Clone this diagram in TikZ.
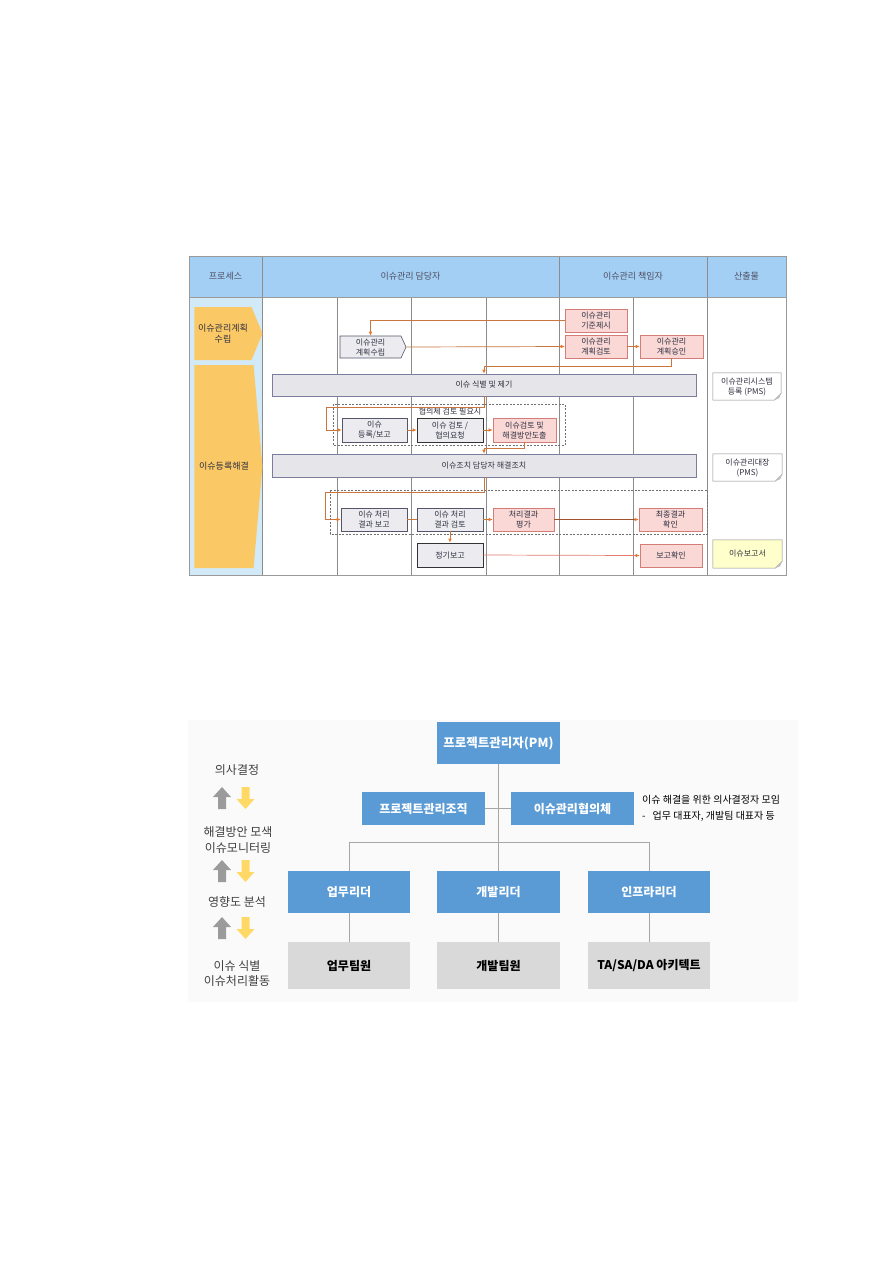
\documentclass[tikz,border=0pt]{standalone}
\usepackage{fontspec}
\setmainfont{Noto Sans CJK KR}
\usetikzlibrary{arrows.meta,shapes.symbols}
\definecolor{hdr}{HTML}{A3CFF5}
\definecolor{procbg}{HTML}{D2EAF8}
\definecolor{procarr}{HTML}{FAC865}
\definecolor{tbl}{HTML}{9A9A9A}
\definecolor{lane}{HTML}{8C8C8C}
\definecolor{hdrtxt}{HTML}{505062}
\definecolor{txt}{HTML}{303040}
\definecolor{gbd}{HTML}{55556A}
\definecolor{gbf}{HTML}{ECECF0}
\definecolor{pbd}{HTML}{D47C78}
\definecolor{pbf}{HTML}{F9D8D6}
\definecolor{barbd}{HTML}{7C7C9C}
\definecolor{barf}{HTML}{E6E6EA}
\definecolor{flowc}{HTML}{C8763E}
\definecolor{tipc}{HTML}{E8782E}
\definecolor{darkflow}{HTML}{A0522D}
\definecolor{lightflow}{HTML}{E27A72}
\definecolor{dashc}{HTML}{707070}
\definecolor{docbd}{HTML}{8A8A8A}
\definecolor{docyel}{HTML}{FFFFCC}
\definecolor{orgblue}{HTML}{5B9BD5}
\definecolor{orggray}{HTML}{D9D9D9}
\definecolor{orgline}{HTML}{A6A6A6}
\definecolor{lbltxt}{HTML}{404040}
\definecolor{upc}{HTML}{9B9B9B}
\definecolor{dnc}{HTML}{FFD966}
\definecolor{orgbg}{HTML}{FAFAFA}
\tikzset{
  boxfont/.style={font=\fontsize{8}{10}\selectfont},
  gbox/.style={rectangle, draw=gbd, fill=gbf, line width=0.6pt, inner sep=0pt, align=center, boxfont, text=txt},
  pbox/.style={gbox, draw=pbd, fill=pbf},
  barbox/.style={gbox, draw=barbd, fill=barf},
  docnode/.style={rectangle, inner sep=0pt, align=center, boxfont, text=txt},
  procshape/.style={signal, signal to=east, fill=procarr, inner sep=0pt, align=center, font=\fontsize{9}{10.5}\selectfont, text=txt},
  hdrtext/.style={font=\fontsize{9}{11}\selectfont, text=hdrtxt},
  flow/.style={draw=flowc, line width=0.7pt, -{Latex[length=4pt,width=3.6pt,color=tipc]}},
  plainflow/.style={draw=flowc, line width=0.7pt},
  dashbox/.style={draw=dashc, line width=0.5pt, dash pattern=on 2pt off 1.5pt},
  orgbox/.style={rectangle, fill=orgblue, inner sep=0pt, text=white, font=\fontsize{12}{14}\selectfont\bfseries},
  teambox/.style={rectangle, fill=orggray, inner sep=0pt, text=black, font=\fontsize{12}{14}\selectfont\bfseries},
  orgedge/.style={draw=orgline, line width=0.8pt},
  sidelabel/.style={align=center, text=lbltxt, font=\fontsize{12}{15.5}\selectfont},
  notefont/.style={anchor=west, inner sep=0pt, text=black, font=\fontsize{10}{12}\selectfont},
  uparr/.pic={\fill[upc] (0,0) -- (9,10) -- (4,10) -- (4,22) -- (-4,22) -- (-4,10) -- (-9,10) -- cycle;},
  dnarr/.pic={\fill[dnc] (0,22) -- (9,12) -- (4,12) -- (4,0) -- (-4,0) -- (-4,12) -- (-9,12) -- cycle;}
}
\begin{document}
\begin{tikzpicture}[x=1pt,y=-1pt]
\useasboundingbox (0,0) rectangle (893,1262);
\fill[white] (0,0) rectangle (893,1262);

% ===== swimlane table =====
\fill[hdr] (189,256) rectangle (786,297);
\fill[procbg] (189,297) rectangle (262,575);
\foreach \xx in {337,411,486,633} \draw[lane, line width=0.6pt] (\xx,297) -- (\xx,575);
\foreach \xx in {262,559,707} \draw[lane, line width=0.6pt] (\xx,256) -- (\xx,575);
\draw[tbl, line width=0.6pt] (189,297) -- (786,297);
\draw[tbl, line width=0.7pt] (189,256) rectangle (786,575);

\node[hdrtext] (h1) at (225.5,276.5) {프로세스};
\node[hdrtext] (h2) at (410.5,276.5) {이슈관리 담당자};
\node[hdrtext] (h3) at (633,276.5) {이슈관리 책임자};
\node[hdrtext] (h4) at (746.5,276.5) {산출물};

\node[procshape, minimum width=68pt, minimum height=53pt, signal pointer angle=135] (p1) at (223,333.5) {이슈관리계획\\수립};
\node[procshape, minimum width=68pt, minimum height=203pt, signal pointer angle=170] (p2) at (224,466.5) {이슈등록해결};

% dashed groups
\draw[dashbox] (333,404) rectangle (565,445);
\draw[dashbox] (330,490) rectangle (707,534);

% boxes
\node[gbox, signal, signal to=east, signal pointer angle=131, minimum width=66pt, minimum height=22pt] (plan) at (370.5,347) {이슈관리\\계획수립};
\node[pbox, minimum width=62pt, minimum height=23pt] (std) at (596,320.5) {이슈관리\\기준제시};
\node[pbox, minimum width=62pt, minimum height=23pt] (rev) at (596,346.5) {이슈관리\\계획검토};
\node[pbox, minimum width=63pt, minimum height=23pt] (appr) at (671.5,346.5) {이슈관리\\계획승인};
\node[barbox, minimum width=424pt, minimum height=22pt] (bar1) at (484,385) {이슈 식별 및 제기};
\node[boxfont, text=txt, inner sep=0pt] (need) at (450,411) {협의체 검토 필요시};
\node[gbox, minimum width=65pt, minimum height=24pt] (reg) at (374.5,430) {이슈\\등록/보고};
\node[gbox, minimum width=66pt, minimum height=24pt, draw=black!80] (req) at (450,430) {이슈 검토 /\\협의요청};
\node[pbox, minimum width=63pt, minimum height=24pt] (sol) at (524.5,430) {이슈검토 및\\해결방안도출};
\node[barbox, minimum width=424pt, minimum height=23pt] (bar2) at (484,465.5) {이슈조치 담당자 해결조치};
\node[gbox, minimum width=66pt, minimum height=23pt] (res) at (374,519.5) {이슈 처리\\결과 보고};
\node[gbox, minimum width=66pt, minimum height=23pt] (chk) at (450,519.5) {이슈 처리\\결과 검토};
\node[pbox, minimum width=61pt, minimum height=23pt] (eval) at (523.5,519.5) {처리결과\\평가};
\node[pbox, minimum width=63pt, minimum height=23pt] (fin) at (670.5,519.5) {최종결과\\확인};
\node[gbox, minimum width=66pt, minimum height=24pt, draw=black!80] (peri) at (450,555) {정기보고};
\node[pbox, minimum width=62pt, minimum height=23pt] (conf) at (671,555.5) {보고확인};

% output documents
\node[docnode, fill=white, minimum width=68pt, minimum height=27pt] (doc1) at (747,386.5) {이슈관리시스템\\등록 (PMS)};
\node[docnode, fill=white, minimum width=69pt, minimum height=27pt] (doc2) at (747.5,467.5) {이슈관리대장\\(PMS)};
\node[docnode, fill=docyel, minimum width=69pt, minimum height=28pt] (doc3) at (747.5,554) {이슈보고서};
\foreach \d in {doc1,doc2,doc3}{
  \fill[white] ([yshift=7pt]\d.south east) -- (\d.south east) -- ([xshift=-7pt]\d.south east) -- cycle;
  \draw[docbd, line width=0.5pt] (\d.north west) -- (\d.north east) -- ([yshift=7pt]\d.south east) -- ([xshift=-7pt]\d.south east) -- (\d.south west) -- cycle;
  \fill[black!25] ([yshift=7pt]\d.south east) -- ([xshift=-7pt]\d.south east) -- ([xshift=-2pt,yshift=2pt]\d.south east) -- cycle;
}

% connectors
\coordinate (c1) at (326,407);
\coordinate (c2) at (325,492);
\draw[flow] (std.west) -| (plan.north);
\draw[flow] (plan.east) -- (rev.west);
\draw[flow] (rev.east) -- (appr.west);
\draw[flow] (appr.south) -- ++(0,8) -| (bar1.north);
\draw[flow] (bar1.south) |- (c1) |- (reg.west);
\draw[flow] (reg.east) -- (req.west);
\draw[flow] (req.east) -- (sol.west);
\draw[flow] (sol.south) -- ++(0,6) -| (bar2.north);
\draw[flow] (bar2.south) |- (c2) |- (res.west);
\draw[plainflow] (res.east) -- (chk.west);
\draw[flow] (chk.east) -- (eval.west);
\draw[flow, draw=darkflow] (eval.east) -- (fin.west);
\draw[flow] (chk.south) -- (peri.north);
\draw[flow, draw=lightflow] (peri.east) -- (conf.west);

% ===== organisation chart =====
\fill[orgbg] (188,720) rectangle (798,1002);
\node[orgbox, minimum width=123pt, minimum height=42pt, font=\fontsize{12.5}{14}\selectfont\bfseries] (pm) at (498.5,743) {프로젝트관리자(PM)};
\node[orgbox, minimum width=123pt, minimum height=33pt] (org) at (423.5,808.5) {프로젝트관리조직};
\node[orgbox, minimum width=123pt, minimum height=33pt] (cmt) at (572.5,808.5) {이슈관리협의체};
\node[orgbox, minimum width=122pt, minimum height=42pt] (l1) at (349,892) {업무리더};
\node[orgbox, minimum width=123pt, minimum height=42pt] (l2) at (498.5,892) {개발리더};
\node[orgbox, minimum width=122pt, minimum height=42pt] (l3) at (649,892) {인프라리더};
\node[teambox, minimum width=122pt, minimum height=47pt] (t1) at (349,965.5) {업무팀원};
\node[teambox, minimum width=123pt, minimum height=47pt] (t2) at (498.5,965.5) {개발팀원};
\node[teambox, minimum width=122pt, minimum height=47pt] (t3) at (649,965.5) {TA/SA/DA 아키텍트};

\coordinate (bus) at (498.5,842);
\draw[orgedge] (pm.south) -- (bus);
\draw[orgedge] (org.east) -- (cmt.west);
\draw[orgedge] (bus) -| (l1.north);
\draw[orgedge] (bus) -| (l3.north);
\draw[orgedge] (bus) -- (l2.north);
\draw[orgedge] (l1.south) -- (t1.north);
\draw[orgedge] (l2.south) -- (t2.north);
\draw[orgedge] (l3.south) -- (t3.north);

\node[notefont] (note1) at (642,800) {이슈 해결을 위한 의사결정자 모임};
\node[notefont] (note2) at (642,816) {-\hspace{7pt}업무 대표자, 개발팀 대표자 등};

% left column
\node[sidelabel] (s1) at (237,770) {의사결정};
\node[sidelabel] (s2) at (238,840) {해결방안 모색\\이슈모니터링};
\node[sidelabel] (s3) at (237,902) {영향도 분석};
\node[sidelabel] (s4) at (237,973.5) {이슈 식별\\이슈처리활동};
\foreach \yy in {787,860,917}{
  \pic at (222,\yy) {uparr};
  \pic at (245.5,\yy) {dnarr};
}
\end{tikzpicture}
\end{document}
